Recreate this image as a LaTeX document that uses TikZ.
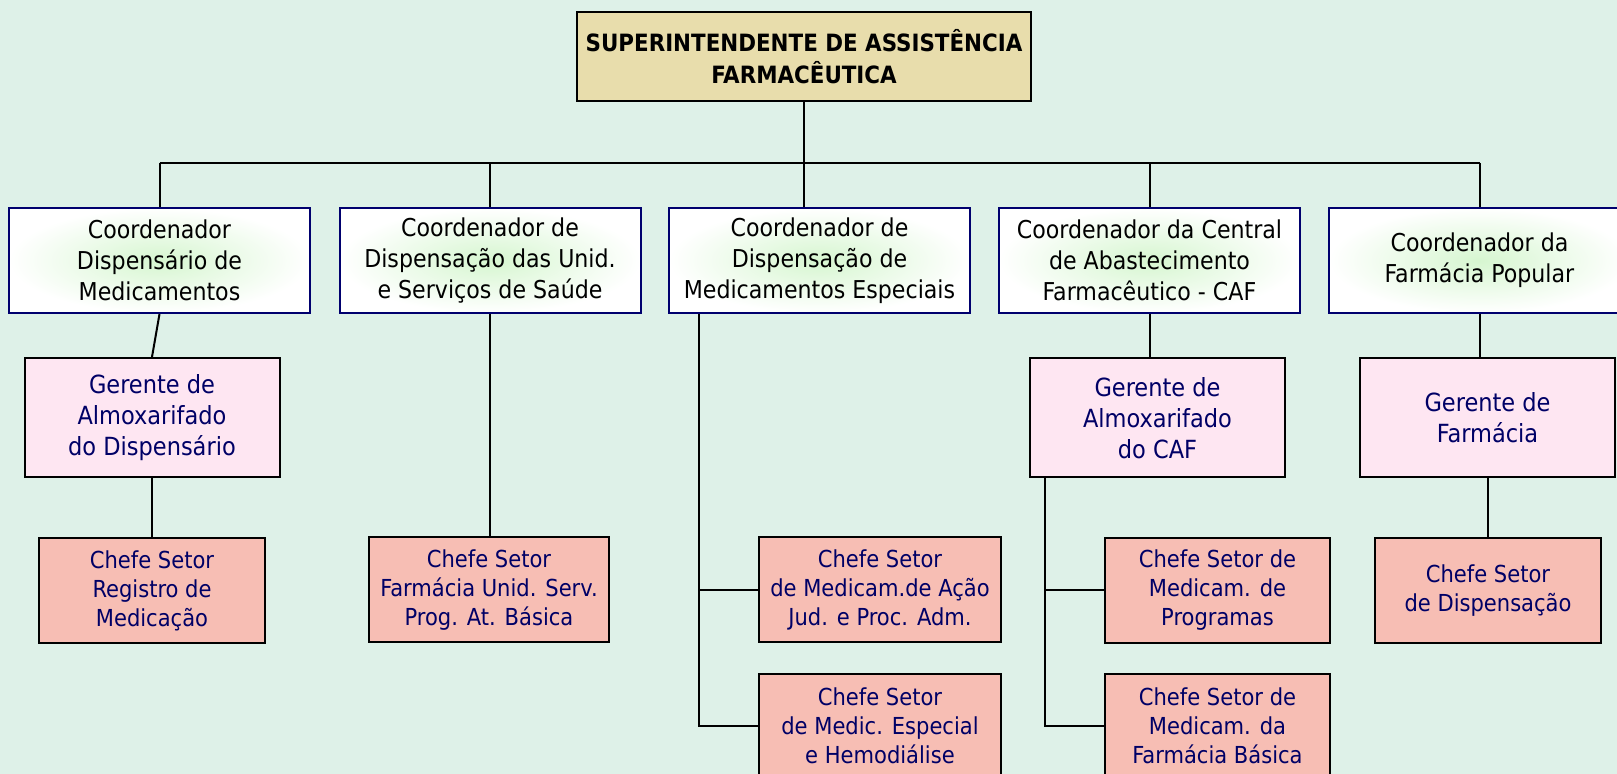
\documentclass[tikz,border=0pt]{standalone}
\usepackage{fontspec}
\setmainfont{DejaVu Sans Condensed}
\usetikzlibrary{positioning}
\definecolor{bgmint}{RGB}{222,241,232}
\definecolor{topbeige}{RGB}{232,221,172}
\definecolor{coordnavy}{RGB}{0,0,110}
\definecolor{coordglow}{RGB}{214,246,208}
\definecolor{gerpink}{RGB}{254,230,242}
\definecolor{chefesalmon}{RGB}{247,190,180}
\definecolor{textnavy}{RGB}{0,0,102}
\tikzset{
	topbox/.style={draw=black, line width=1pt, fill=topbeige, align=center, inner sep=0pt,
		minimum width=227pt, minimum height=44.5pt, font=\bfseries\fontsize{11.9}{16}\selectfont},
	coordbox/.style={draw=coordnavy, line width=1pt, inner color=coordglow, outer color=white,
		align=center, inner sep=0pt, minimum width=150.5pt, minimum height=52.5pt,
		font=\fontsize{12.3}{15.5}\selectfont},
	gerbox/.style={draw=black, line width=1pt, fill=gerpink, text=textnavy, align=center,
		inner sep=0pt, minimum width=127.5pt, minimum height=59.5pt,
		font=\fontsize{12.5}{15.5}\selectfont},
	chefebox/.style={draw=black, line width=1pt, fill=chefesalmon, text=textnavy, align=center,
		inner sep=0pt, minimum height=52.5pt, font=\fontsize{11.7}{14.5}\selectfont},
	link/.style={draw=black, line width=1pt}
}

\begin{document}
\begin{tikzpicture}[x=0.5pt, y=-0.5pt]
	\fill[bgmint] (0,0) rectangle (1617,774);
	\useasboundingbox (0,0) rectangle (1617,774);
	% Superintendente
	\node[topbox] (top) at (804,56.5) {SUPERINTENDENTE DE ASSISTÊNCIA\\FARMACÊUTICA};
	% Coordenadores
	\node[coordbox] (coordA) at (159.5,260.5) {Coordenador\\Dispensário de\\Medicamentos};
	\node[coordbox] (coordB) at (490,260.5) {Coordenador de\\Dispensação das Unid.\\e Serviços de Saúde};
	\node[coordbox] (coordC) at (819.5,260.5) {Coordenador de\\Dispensação de\\Medicamentos Especiais};
	\node[coordbox] (coordD) at (1149.5,260.5) {Coordenador da Central\\de Abastecimento\\Farmacêutico - CAF};
	\node[coordbox] (coordE) at (1479.5,260.5) {Coordenador da\\Farmácia Popular};
	% Gerentes
	\node[gerbox] (gerA) at (152,417.5) {Gerente de\\Almoxarifado\\do Dispensário};
	\node[gerbox] (gerD) at (1157.5,418) {Gerente de\\Almoxarifado\\do CAF};
	\node[gerbox] (gerE) at (1487.5,417.5) {Gerente de\\Farmácia};
	% Chefes de setor
	\node[chefebox, minimum width=113pt] (chefeA) at (152,590.5) {Chefe Setor\\Registro de\\Medicação};
	\node[chefebox, minimum width=120pt] (chefeB) at (489,590) {Chefe Setor\\Farmácia Unid. Serv.\\Prog. At. Básica};
	\node[chefebox, minimum width=121pt] (chefeCa) at (880,590) {Chefe Setor\\de Medicam.de Ação\\Jud. e Proc. Adm.};
	\node[chefebox, minimum width=121pt] (chefeCb) at (880,726) {Chefe Setor\\de Medic. Especial\\e Hemodiálise};
	\node[chefebox, minimum width=112.5pt] (chefeDa) at (1217.5,590.5) {Chefe Setor  de\\Medicam. de\\Programas};
	\node[chefebox, minimum width=112.5pt] (chefeDb) at (1217.5,726) {Chefe Setor  de\\Medicam. da\\Farmácia Básica};
	\node[chefebox, minimum width=113pt] (chefeE) at (1488,590.5) {Chefe Setor\\de Dispensação};
	% barramento
	\coordinate (bus) at (804,163);
	\draw[link] (coordA.north |- bus) -- (coordE.north |- bus);
	\draw[link] (top.south) -- (top.south |- coordC.north);
	\foreach \c in {coordA, coordB, coordD, coordE}
		\draw[link] (\c.north |- bus) -- (\c.north);
	% ligacoes
	\draw[link] (coordA.south) -- (gerA.north);
	\draw[link] (gerA.south) -- (chefeA.north);
	\draw[link] (coordB.south) -- (coordB.south |- chefeB.north);
	\coordinate (spineC) at ([xshift=15.5pt]coordC.south west);
	\draw[link] (spineC) -- (spineC |- chefeCb.west) -- (chefeCb.west);
	\draw[link] (spineC |- chefeCa.west) -- (chefeCa.west);
	\draw[link] (coordD.south) -- (coordD.south |- gerD.north);
	\coordinate (spineD) at ([xshift=8pt]gerD.south west);
	\draw[link] (spineD) -- (spineD |- chefeDb.west) -- (chefeDb.west);
	\draw[link] (spineD |- chefeDa.west) -- (chefeDa.west);
	\draw[link] (coordE.south) -- (coordE.south |- gerE.north);
	\draw[link] (gerE.south) -- (gerE.south |- chefeE.north);
\end{tikzpicture}
\end{document}
